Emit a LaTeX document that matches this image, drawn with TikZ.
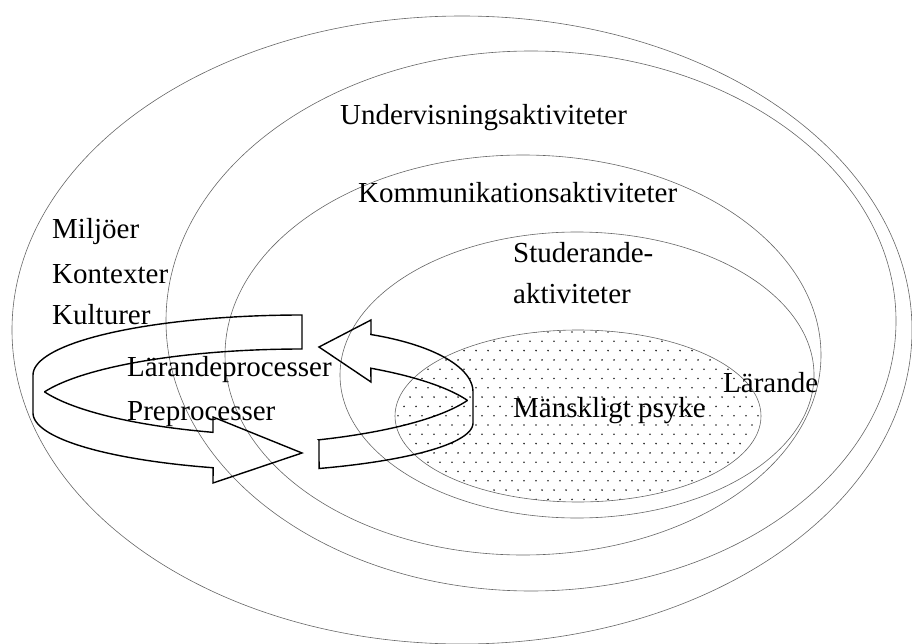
\documentclass[tikz,border=0pt]{standalone}
\usepackage{fontspec}
\setmainfont{Liberation Serif}
\begin{document}
\begin{tikzpicture}[x=1pt,y=-1pt,
  ring/.style={draw=black!60, line width=0.6pt},
  band/.style={draw=black, line width=1.4pt, line join=miter},
  lbl/.style={anchor=base west, inner sep=0pt, font=\fontsize{29}{34}\selectfont},
  dotmark/.style={fill=black!85}]
\useasboundingbox (0,0) rectangle (912,644);
% dotted fill of the inner ellipse
\begin{scope}
  \clip (578,416) ellipse[x radius=183pt, y radius=86pt];
  \foreach \r in {0,...,19}{
    \foreach \c in {0,...,32}{
      \fill[dotmark] ({392+12*\c+6*mod(\r,2)},{332+9.3*\r}) circle[radius=0.9pt];
    }
  }
\end{scope}
% nested ellipses
\draw[ring] (462,330) ellipse[x radius=450pt, y radius=314pt];
\draw[ring] (531,321) ellipse[x radius=365pt, y radius=270pt];
\draw[ring] (523,355) ellipse[x radius=298pt, y radius=200pt];
\draw[ring] (577,375) ellipse[x radius=237pt, y radius=143pt];
\draw[ring] (578,416) ellipse[x radius=183pt, y radius=86pt];
% left curved arrow (ribbon)
\draw[band] (302,315)
  -- plot[domain=270:180, samples=40, variable=\t] ({302+269*cos(\t)},{375+60*sin(\t)})
  -- plot[domain=180:109.3, samples=40, variable=\t] ({302+269*cos(\t)},{413+58*sin(\t)})
  -- (213,483) -- (302,453) -- (213,417) -- (213,432)
  -- plot[domain=108.9:159.2, samples=40, variable=\t] ({302+275*cos(\t)},{368+68*sin(\t)})
  -- plot[domain=200.8:270, samples=40, variable=\t] ({302+275*cos(\t)},{415+66*sin(\t)})
  -- cycle;
% right curved arrow (ribbon)
\draw[band] (319,347) -- (371,320) -- (371,335)
  -- plot[domain=294.2:360, samples=40, variable=\t] ({300+173*cos(\t)},{392+63*sin(\t)})
  -- plot[domain=0:65.5, samples=40, variable=\t] ({210+263*cos(\t)},{423+50*sin(\t)})
  -- (319,440)
  -- plot[domain=66.7:20.8, samples=40, variable=\t] ({210+275*cos(\t)},{376+69.5*sin(\t)})
  -- plot[domain=339.2:305.8, samples=40, variable=\t] ({210+275*cos(\t)},{425+70*sin(\t)})
  -- (371,382) -- cycle;
% labels
\node[lbl] (und) at (340,125) {Undervisningsaktiviteter};
\node[lbl] (kom) at (358,203) {Kommunikationsaktiviteter};
\node[lbl] (mil) at (52,239) {Miljöer};
\node[lbl] (kon) at (52,283) {Kontexter};
\node[lbl] (kul) at (52,324) {Kulturer};
\node[lbl] (stu) at (513,262) {Studerande-};
\node[lbl] (akt) at (513,303) {aktiviteter};
\node[lbl] (lp) at (127,376) {Lärandeprocesser};
\node[lbl] (pp) at (127,420) {Preprocesser};
\node[lbl] (lar) at (723,392) {Lärande};
\node[lbl] (man) at (513,417) {Mänskligt psyke};
\end{tikzpicture}
\end{document}
